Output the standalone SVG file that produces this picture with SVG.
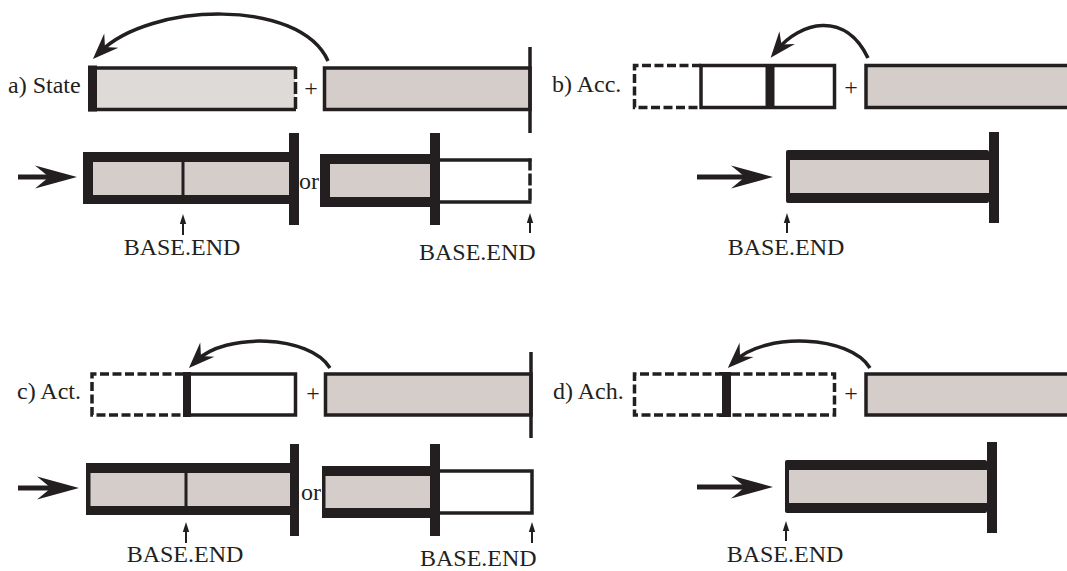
<svg xmlns="http://www.w3.org/2000/svg" width="1067" height="571" viewBox="0 0 1067 571">
  <style>
    .blk{fill:#231f20}
    .gry{fill:#d5cdca}
    .pale{fill:#dedad8}
    .box{fill:#d5cdca;stroke:#231f20;stroke-width:3.5}
    .edge{fill:none;stroke:#231f20;stroke-width:3.5}
    .dash{fill:none;stroke:#231f20;stroke-width:3.5;stroke-dasharray:9 3.5}
    .dashv{fill:none;stroke:#231f20;stroke-width:3.5;stroke-dasharray:12 3}
    .arc{fill:none;stroke:#231f20;stroke-width:3.5;marker-end:url(#arcHead)}
    .feed{fill:none;stroke:#231f20;stroke-width:5;marker-end:url(#feedHead)}
    .tick{fill:none;stroke:#231f20;stroke-width:2;marker-end:url(#tickHead)}
  </style>
  <defs>
    <marker id="arcHead" markerUnits="userSpaceOnUse" viewBox="-28 -13 30 26" refX="-10" refY="0" markerWidth="30" markerHeight="26" orient="auto">
      <path d="M0,0 L-26,-10 L-17,0 L-26,10 Z" fill="#231f20"/>
    </marker>
    <marker id="feedHead" markerUnits="userSpaceOnUse" viewBox="-44 -13 46 26" refX="-17" refY="0" markerWidth="46" markerHeight="26" orient="auto">
      <path d="M0,0 L-42,-11.5 L-28,0 L-42,11.5 Z" fill="#231f20"/>
    </marker>
    <marker id="tickHead" markerUnits="userSpaceOnUse" viewBox="-12 -5 14 10" refX="-6" refY="0" markerWidth="14" markerHeight="10" orient="auto">
      <path d="M0,0 L-10,-3.2 L-10,3.2 Z" fill="#231f20"/>
    </marker>
  </defs>

  <!-- labels -->
  <g id="labels" font-family="Liberation Serif" font-size="24" fill="#231f20">
    <text x="8" y="93">a) State</text>
    <text x="552" y="92">b) Acc.</text>
    <text x="17" y="399">c) Act.</text>
    <text x="553" y="399">d) Ach.</text>
    <text x="311" y="96" text-anchor="middle">+</text>
    <text x="851" y="95" text-anchor="middle">+</text>
    <text x="313" y="401" text-anchor="middle">+</text>
    <text x="851" y="401" text-anchor="middle">+</text>
    <text x="299" y="189">or</text>
    <text x="301" y="500">or</text>
    <text x="182" y="255" text-anchor="middle">BASE.END</text>
    <text x="419" y="260">BASE.END</text>
    <text x="786" y="255" text-anchor="middle">BASE.END</text>
    <text x="185" y="562" text-anchor="middle">BASE.END</text>
    <text x="420" y="566">BASE.END</text>
    <text x="785" y="562" text-anchor="middle">BASE.END</text>
  </g>

  <!-- a) state: buffer + operand -->
  <g id="a-buffer">
    <rect class="pale" x="92" y="68" width="203" height="41"/>
    <path class="edge" d="M88 68 H296 M88 109.5 H296"/>
    <rect class="blk" x="88" y="65.5" width="9" height="46"/>
    <path class="dashv" d="M295.5 67 V111"/>
  </g>
  <g id="a-operand">
    <rect class="box" x="324.5" y="68" width="205.5" height="41.5"/>
    <path class="edge" d="M530 47 V133"/>
  </g>
  <g id="a-result-full">
    <rect class="blk" x="83" y="152" width="207" height="52"/>
    <rect class="gry" x="93" y="162" width="196" height="33"/>
    <rect class="blk" x="181.5" y="162" width="3" height="33"/>
    <rect class="blk" x="289" y="133" width="10" height="92"/>
  </g>
  <g id="a-result-part">
    <rect class="blk" x="320" y="154" width="110" height="53"/>
    <rect class="gry" x="330" y="164" width="100" height="33"/>
    <rect class="blk" x="430" y="133" width="10" height="92"/>
    <path class="edge" d="M440 160 H531.5 M440 202 H531.5"/>
    <path class="dashv" d="M530 158.5 V203.5"/>
  </g>

  <!-- b) accumulate -->
  <g id="b-buffer">
    <path class="dash" d="M701 65.5 H634.5 V107.5 H701"/>
    <rect class="edge" x="701" y="65.5" width="133.5" height="42"/>
    <rect class="blk" x="765.5" y="64" width="9" height="45"/>
  </g>
  <g id="b-operand">
    <rect class="box" x="866" y="65.5" width="210" height="42"/>
  </g>
  <g id="b-result">
    <rect class="blk" x="786" y="150" width="203" height="53" rx="2"/>
    <rect class="gry" x="790" y="160" width="199" height="33"/>
    <rect class="blk" x="989" y="132" width="10" height="91"/>
  </g>

  <!-- c) activate -->
  <g id="c-buffer">
    <path class="dash" d="M184 374 H92 V415 H184"/>
    <rect class="edge" x="189" y="374" width="106.5" height="41"/>
    <rect class="blk" x="183" y="372" width="8" height="45"/>
  </g>
  <g id="c-operand">
    <rect class="box" x="325.5" y="374" width="205.5" height="41"/>
    <path class="edge" d="M531 352 V438"/>
  </g>
  <g id="c-result-full">
    <rect class="blk" x="86" y="463" width="204" height="52"/>
    <rect class="gry" x="90.5" y="473" width="199.5" height="33"/>
    <rect class="blk" x="184.5" y="473" width="3" height="33"/>
    <rect class="blk" x="290" y="444" width="9" height="92"/>
  </g>
  <g id="c-result-part">
    <rect class="blk" x="322" y="466" width="108" height="52"/>
    <rect class="gry" x="325.5" y="476" width="104.5" height="32"/>
    <rect class="edge" x="438" y="471" width="94" height="42"/>
    <rect class="blk" x="430" y="444" width="10" height="92"/>
  </g>

  <!-- d) achieve -->
  <g id="d-buffer">
    <path class="dash" d="M724 374 H634.5 V415 H724"/>
    <path class="dash" d="M731 374 H834.5 V415 H731"/>
    <path class="blk" d="M719 372 H731 V417 H719 V414 H722 V375 H719 Z"/>
  </g>
  <g id="d-operand">
    <rect class="box" x="866" y="374" width="210" height="41"/>
  </g>
  <g id="d-result">
    <rect class="blk" x="785" y="460" width="202" height="53" rx="2"/>
    <rect class="gry" x="789" y="470" width="198" height="33"/>
    <rect class="blk" x="987" y="442" width="10" height="91"/>
  </g>

  <!-- connectors -->
  <g id="connectors">
    <path class="arc" d="M328 61 C300 -2, 150 2, 100 52"/>
    <path class="arc" d="M868 58 C845 10, 800 22, 777 50"/>
    <path class="arc" d="M330 368 C310 335, 225 332, 196 361"/>
    <path class="arc" d="M870 368 C850 335, 765 332, 735 361"/>
    <path class="feed" d="M18 177 H60"/>
    <path class="feed" d="M697 177 H756"/>
    <path class="feed" d="M18 488 H62"/>
    <path class="feed" d="M697 487 H756"/>
    <path class="tick" d="M183 235 V220"/>
    <path class="tick" d="M530 233 V219"/>
    <path class="tick" d="M787 233 V219"/>
    <path class="tick" d="M186 543 V528"/>
    <path class="tick" d="M532 543 V528"/>
    <path class="tick" d="M786 541 V527"/>
  </g>
</svg>
